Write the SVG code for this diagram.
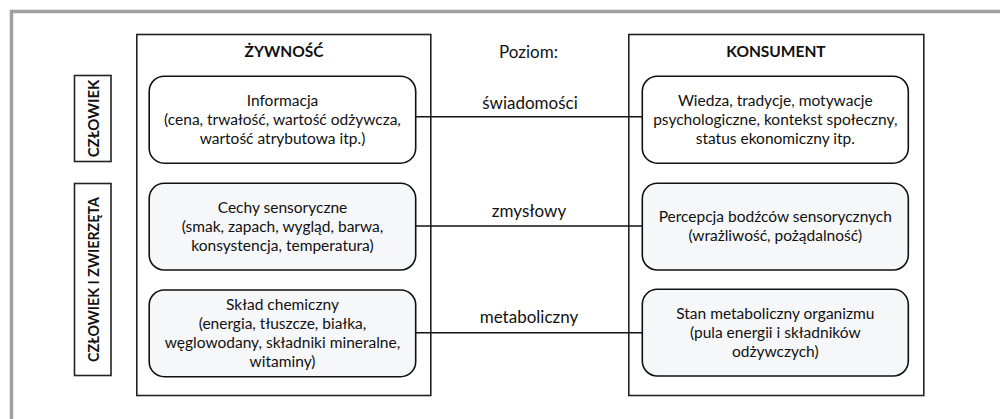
<svg xmlns="http://www.w3.org/2000/svg" width="1000" height="419" viewBox="0 0 1000 419">
<style>
.frame{fill:none;stroke:#a0a0a0;stroke-width:3.5}
.outer{fill:#fff;stroke:#222;stroke-width:1.6}
.side{fill:#fff;stroke:#222;stroke-width:1.6}
.box{fill:#fff;stroke:#111;stroke-width:1.6}
.box.g{fill:#f6f7f9}
.conn{stroke:#111;stroke-width:1.4;fill:none}
text{font-family:Lato,"Open Sans","DejaVu Sans",sans-serif;font-size:15.5px;fill:#111;text-anchor:middle}
.b{font-weight:bold;font-size:15.5px}
.s{font-size:15px}
.s2{font-size:14.3px}
.l{font-size:17px}
</style>
<rect width="1000" height="419" fill="#fff"/>
<path class="frame" d="M11.5 419 V11.5 H1000"/>
<g id="food">
<rect class="outer" x="136.8" y="34.5" width="294" height="361"/>
<text class="b" x="284" y="57">ŻYWNOŚĆ</text>
</g>
<g id="consumer">
<rect class="outer" x="628.8" y="34.5" width="295" height="361"/>
<text class="b" x="776" y="57">KONSUMENT</text>
</g>
<g id="label-czlowiek">
<rect class="side" x="74.5" y="75.5" width="36.5" height="86"/>
<text class="b s" transform="translate(98.5 118.5) rotate(-90)">CZŁOWIEK</text>
</g>
<g id="label-czlowiek-zwierzeta">
<rect class="side" x="74.5" y="183.5" width="36.5" height="192"/>
<text class="b s2" transform="translate(98.5 279.5) rotate(-90)">CZŁOWIEK I ZWIERZĘTA</text>
</g>
<g id="poziom"><text class="l" x="528.5" y="58">Poziom:</text></g>
<g id="connectors">
<line class="conn" x1="415.7" y1="116.7" x2="642.3" y2="116.7"/>
<line class="conn" x1="415.7" y1="226" x2="642.3" y2="226"/>
<line class="conn" x1="415.7" y1="332.7" x2="642.3" y2="332.7"/>
<text class="l" x="530" y="109">świadomości</text>
<text class="l" x="529" y="217">zmysłowy</text>
<text class="l" x="529" y="322.5">metaboliczny</text>
</g>
<g id="informacja">
<rect class="box" x="149.2" y="76.2" width="266.5" height="87" rx="15"/>
<text x="282.5" y="105.5">Informacja</text>
<text x="282.5" y="124.5">(cena, trwałość, wartość odżywcza,</text>
<text x="282.5" y="143.5">wartość atrybutowa itp.)</text>
</g>
<g id="cechy">
<rect class="box g" x="149.2" y="183.3" width="266.5" height="86.7" rx="15"/>
<text x="282.5" y="212.5">Cechy sensoryczne</text>
<text x="282.5" y="231.5">(smak, zapach, wygląd, barwa,</text>
<text x="282.5" y="250.5">konsystencja, temperatura)</text>
</g>
<g id="sklad">
<rect class="box g" x="149.2" y="290" width="266.5" height="86.7" rx="15"/>
<text x="282.5" y="310">Skład chemiczny</text>
<text x="282.5" y="329">(energia, tłuszcze, białka,</text>
<text x="282.5" y="348">węglowodany, składniki mineralne,</text>
<text x="282.5" y="367">witaminy)</text>
</g>
<g id="wiedza">
<rect class="box" x="642.3" y="76.2" width="266" height="87" rx="15"/>
<text x="775.3" y="105.5">Wiedza, tradycje, motywacje</text>
<text x="775.3" y="124.5">psychologiczne, kontekst społeczny,</text>
<text x="775.3" y="143.5">status ekonomiczny itp.</text>
</g>
<g id="percepcja">
<rect class="box g" x="642.3" y="183.3" width="266" height="86.7" rx="15"/>
<text x="775.3" y="222">Percepcja bodźców sensorycznych</text>
<text x="775.3" y="241">(wrażliwość, pożądalność)</text>
</g>
<g id="stan">
<rect class="box g" x="642.3" y="289.3" width="266" height="86.7" rx="15"/>
<text x="775.3" y="318.5">Stan metaboliczny organizmu</text>
<text x="775.3" y="337.5">(pula energii i składników</text>
<text x="775.3" y="356.5">odżywczych)</text>
</g>
</svg>
